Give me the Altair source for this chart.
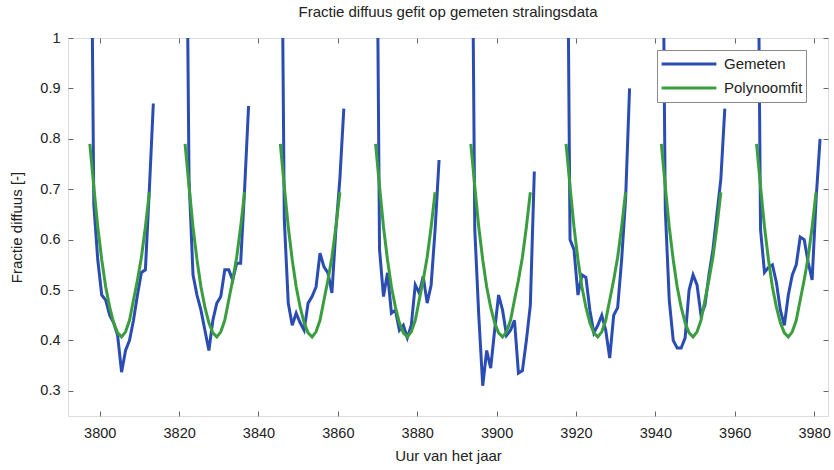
import altair as alt
import pandas as pd

# ---- data ----
day_starts = [3797.5, 3821.5, 3845.5, 3869.5, 3893.5, 3917.5, 3941.5, 3965.5]

gemeten_d1 = [1.6, 0.67, 0.56, 0.49, 0.48, 0.45, 0.435, 0.41, 0.337, 0.38, 0.40, 0.44, 0.49, 0.535, 0.54, 0.70, 0.87]
gemeten_d2 = [1.6, 0.72, 0.53, 0.49, 0.46, 0.42, 0.38, 0.44, 0.474, 0.487, 0.54, 0.54, 0.52, 0.553, 0.553, 0.70, 0.865]
gemeten_d3 = [1.6, 0.64, 0.474, 0.43, 0.454, 0.435, 0.42, 0.474, 0.487, 0.506, 0.573, 0.546, 0.534, 0.494, 0.62, 0.72, 0.86]
gemeten_d4 = [1.6, 0.58, 0.487, 0.534, 0.454, 0.46, 0.42, 0.43, 0.405, 0.43, 0.51, 0.494, 0.527, 0.474, 0.51, 0.62, 0.758]
gemeten_d5 = [1.6, 0.62, 0.45, 0.31, 0.38, 0.345, 0.42, 0.49, 0.46, 0.41, 0.42, 0.44, 0.335, 0.34, 0.40, 0.47, 0.735]
gemeten_d6 = [1.6, 0.60, 0.58, 0.49, 0.53, 0.525, 0.46, 0.415, 0.43, 0.45, 0.42, 0.365, 0.45, 0.465, 0.56, 0.68, 0.90]
gemeten_d7 = [1.6, 0.66, 0.48, 0.40, 0.385, 0.385, 0.405, 0.50, 0.53, 0.51, 0.45, 0.47, 0.53, 0.58, 0.65, 0.72, 0.86]
gemeten_d8 = [1.6, 0.62, 0.535, 0.545, 0.55, 0.515, 0.46, 0.43, 0.49, 0.53, 0.55, 0.605, 0.60, 0.555, 0.52, 0.68, 0.80]
gemeten_days = [gemeten_d1, gemeten_d2, gemeten_d3, gemeten_d4,
                gemeten_d5, gemeten_d6, gemeten_d7, gemeten_d8]

fit_values = [0.79, 0.705, 0.625, 0.56, 0.506, 0.466, 0.435, 0.415, 0.407,
              0.417, 0.44, 0.48, 0.52, 0.565, 0.625, 0.694]

x_ticks = [3800, 3820, 3840, 3860, 3880, 3900, 3920, 3940, 3960, 3980]
y_ticks = [0.3, 0.4, 0.5, 0.6, 0.7, 0.8, 0.9, 1.0]

series_names = ["Gemeten", "Polynoomfit"]
BLUE = "#2B4DB3"
GREEN = "#3A9E3F"

rows = []
for d, (start, vals) in enumerate(zip(day_starts, gemeten_days)):
    for k, v in enumerate(vals):
        rows.append({"uur": start + k, "fractie": v, "reeks": "Gemeten", "dag": d})
    for k, v in enumerate(fit_values):
        rows.append({"uur": start + k, "fractie": v, "reeks": "Polynoomfit", "dag": d})
df = pd.DataFrame(rows)

FONT = "Liberation Sans"
TXT = "#222222"

xs = alt.Scale(domain=[3792, 3983.5], nice=False, zero=False)
ys = alt.Scale(domain=[0.25, 1.0], nice=False, zero=False)

color = alt.Color(
    "reeks:N",
    scale=alt.Scale(domain=series_names, range=[BLUE, GREEN]),
    legend=alt.Legend(
        title=None, orient="none", legendX=589, legendY=12,
        symbolType="stroke", symbolSize=3000, symbolStrokeWidth=3,
        clipHeight=22,
        labelFont=FONT, labelFontSize=15, labelColor=TXT,
        strokeColor="#8a8a8a", fillColor="white", padding=3,
        rowPadding=2, labelOffset=6,
    ),
)

base = alt.Chart(df)

blue = base.transform_filter(alt.datum.reeks == "Gemeten").mark_line(
    strokeWidth=3, clip=True
).encode(
    x=alt.X("uur:Q", scale=xs, axis=alt.Axis(
        values=x_ticks, format="d", orient="bottom", title="Uur van het jaar",
        offset=-5, tickSize=5, domain=False, labelPadding=10, titlePadding=9,
        labelFont=FONT, labelFontSize=14.5, labelColor=TXT, tickColor="#666",
        titleFont=FONT, titleFontSize=15, titleColor=TXT, titleFontWeight="normal",
        grid=False)),
    y=alt.Y("fractie:Q", scale=ys, axis=alt.Axis(
        values=y_ticks, format="~g", orient="left", title="Fractie diffuus [-]",
        offset=-5, tickSize=5, domain=False, labelPadding=8, titlePadding=15,
        labelFont=FONT, labelFontSize=14.5, labelColor=TXT, tickColor="#666",
        titleFont=FONT, titleFontSize=15, titleColor=TXT, titleFontWeight="normal",
        grid=False)),
    color=color,
    detail="dag:N",
)

green = base.transform_filter(alt.datum.reeks == "Polynoomfit").mark_line(
    strokeWidth=3, clip=True
).encode(
    x=alt.X("uur:Q", scale=xs, axis=alt.Axis(
        values=x_ticks, orient="top", title=None, labels=False,
        offset=-5, tickSize=5, domain=False, tickColor="#666", grid=False)),
    y=alt.Y("fractie:Q", scale=ys, axis=alt.Axis(
        values=y_ticks, orient="right", title=None, labels=False,
        offset=-5, tickSize=5, domain=False, tickColor="#666", grid=False)),
    color=color,
    detail="dag:N",
)

chart = alt.layer(blue, green).resolve_axis(x="independent", y="independent").properties(
    width=760, height=378,
    title=alt.TitleParams("Fractie diffuus gefit op gemeten stralingsdata",
                          font=FONT, fontSize=15, fontWeight="normal", color=TXT,
                          anchor="middle", offset=10),
    autosize=alt.AutoSizeParams(type="none"),
    padding={"left": 68, "top": 38, "right": 6, "bottom": 54},
).configure_view(stroke="#666666", strokeWidth=1).configure(background="white")

chart.save("out.html", embed_options={"renderer": "svg", "actions": False})
